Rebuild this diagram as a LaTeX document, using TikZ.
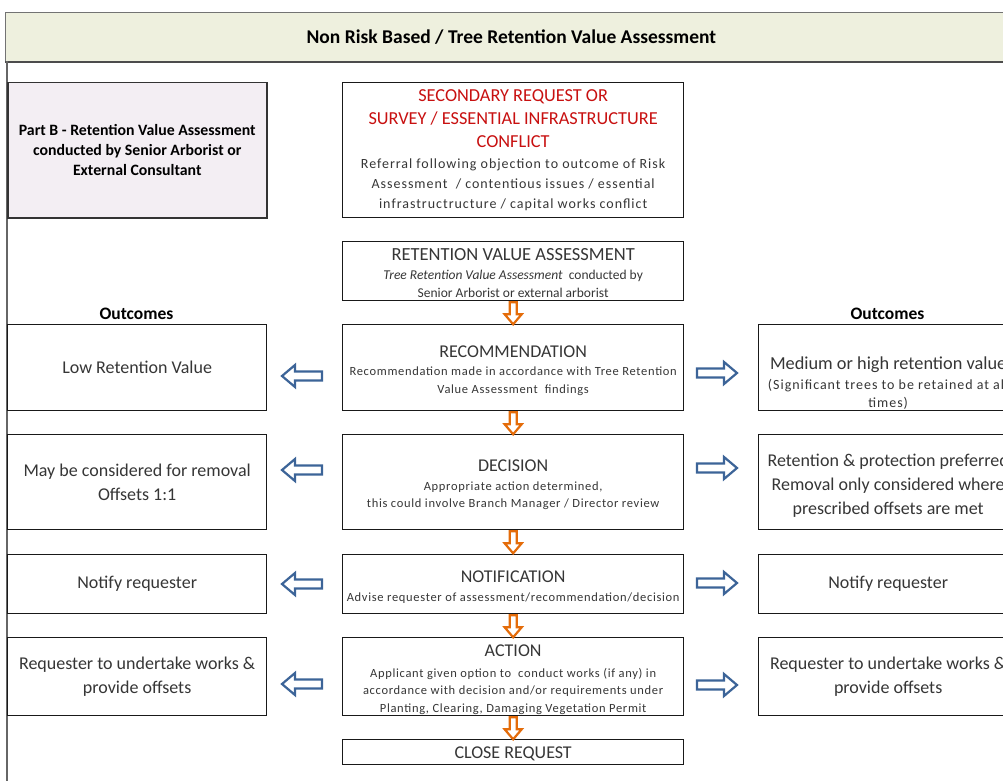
\documentclass[tikz,border=0pt]{standalone}
\usepackage{fontspec}
\usetikzlibrary{calc}
\setmainfont{Carlito}
\newfontfamily\spc[LetterSpace=5.5]{Carlito}
\newfontfamily\spcb[LetterSpace=7]{Carlito}
\definecolor{hdrfill}{HTML}{EEF0DE}
\definecolor{pbfill}{HTML}{F3EEF3}
\definecolor{redt}{HTML}{C81010}
\definecolor{txt}{HTML}{363636}
\definecolor{arrblue}{HTML}{3C6498}
\definecolor{arrorange}{HTML}{E46C0A}
\newcommand{\ttlf}{\rmfamily\fontsize{18}{20}\selectfont}
\begin{document}
\begin{tikzpicture}[x=1pt,y=-1pt,
  box/.style={draw=black!90, line width=1.3pt, fill=white, text=txt, align=center, inner sep=1pt, anchor=north west},
  outbox/.style={box, font=\fontsize{18}{24}\selectfont},
  cbox/.style={box, font=\spc\fontsize{12.5}{17.5}\selectfont},
  outlbl/.style={font=\bfseries\fontsize{17.5}{18}\selectfont, text=black, anchor=base},
  larr/.pic={\draw[arrblue, line width=2.2pt, fill=white, line join=miter]
     (-20,0) -- (-7,-11) -- (-7,-4.5) -- (20,-4.5) -- (20,4.5) -- (-7,4.5) -- (-7,11) -- cycle;},
  rarr/.pic={\draw[arrblue, line width=2.2pt, fill=white, line join=miter]
     (20,0) -- (7,-11) -- (7,-4.5) -- (-20,-4.5) -- (-20,4.5) -- (7,4.5) -- (7,11) -- cycle;},
  darr/.pic={\draw[arrorange, line width=2.2pt, fill=white, line join=miter]
     (-3.5,1) -- (3.5,1) -- (3.5,13) -- (8.5,13) -- (0,23) -- (-8.5,13) -- (-3.5,13) -- cycle;}
]
\useasboundingbox (0,0) rectangle (1003,781);
\clip (0,0) rectangle (1003,781);
\fill[white] (0,0) rectangle (1003,781);

% header
\node[draw=black!55, line width=0.8pt, fill=hdrfill, minimum width=1012, minimum height=49, anchor=north west,
      font=\bfseries\fontsize{19.5}{22}\selectfont, text=black] (hdr) at (5,12) {Non Risk Based / Tree Retention Value Assessment};
\draw[black!70, line width=2.5pt] (hdr.south west) -- (hdr.south east);
\draw[black!60, line width=1.2pt] (7,61) -- (7,781);

% Part B
\node[box, draw=black!80, line width=1.5pt, fill=pbfill, minimum width=259, minimum height=135,
      font=\bfseries\fontsize{15.8}{20}\selectfont, text=black] (partb) at (7,82)
  {Part B - Retention Value Assessment\\conducted by Senior Arborist or\\External Consultant};

% Secondary request
\node[box, minimum width=341, minimum height=135, font=\spcb\fontsize{14}{20}\selectfont] (sec) at (342,82)
  {{\color{redt}\rmfamily\fontsize{18.3}{23}\selectfont SECONDARY REQUEST OR}\\[3pt]
   {\color{redt}\rmfamily\fontsize{18.3}{23}\selectfont SURVEY / ESSENTIAL INFRASTRUCTURE}\\[3pt]
   {\color{redt}\rmfamily\fontsize{18.3}{23}\selectfont CONFLICT}\\[1pt]
   Referral following objection to outcome of Risk\\
   Assessment\ \ / contentious issues / essential\\
   infrastructructure / capital works conflict};

% Retention value assessment
\node[box, minimum width=341, minimum height=59, font=\fontsize{13.5}{18}\selectfont] (rva) at (342,241)
  {{\fontsize{18.5}{20}\selectfont\rule{0pt}{16pt}RETENTION VALUE ASSESSMENT}\\[1pt]
   {\itshape Tree Retention Value Assessment}\ \ conducted by\\
   Senior Arborist or external arborist};

% Outcomes labels
\node[outlbl] (outl) at (136.5,319) {Outcomes};
\node[outlbl] (outr) at (887.5,319) {Outcomes};

% Row 1
\node[outbox, minimum width=259, minimum height=86] (low) at (7,324) {Low Retention Value};
\node[cbox, minimum width=341, minimum height=86] (rec) at (342,324)
  {{\ttlf\rule{0pt}{17pt}RECOMMENDATION}\\[1pt]
   Recommendation made in accordance with Tree Retention\\
   Value Assessment\ \ findings};
\node[box, minimum width=259, minimum height=86, font=\spcb\fontsize{14}{18}\selectfont] (med) at (758,324)
  {{\rmfamily\fontsize{18.3}{20}\selectfont\rule{0pt}{44pt}Medium or high retention value}\\[2pt]
   (Significant trees to be retained at all\\
   times)};

% Row 2
\node[outbox, minimum width=259, minimum height=95] (may) at (7,434) {May be considered for removal\\Offsets 1:1};
\node[cbox, minimum width=341, minimum height=95, font=\spc\fontsize{12.5}{17}\selectfont] (dec) at (342,434)
  {{\ttlf\rule{0pt}{17pt}DECISION}\\[2.5pt]
   Appropriate action determined,\\
   this could involve Branch Manager / Director review};
\node[outbox, minimum width=259, minimum height=95] (ret) at (758,434)
  {\rule{0pt}{19pt}Retention \& protection preferred\\Removal only considered where\\prescribed offsets are met};

% Row 3
\node[outbox, minimum width=259, minimum height=59] (notl) at (7,554) {Notify requester};
\node[cbox, minimum width=341, minimum height=59] (notc) at (342,554)
  {{\ttlf\rule{0pt}{18pt}NOTIFICATION}\\[1pt]
   Advise requester of assessment/recommendation/decision};
\node[outbox, minimum width=259, minimum height=59] (notr) at (758,554) {Notify requester};

% Row 4
\node[outbox, minimum width=259, minimum height=78] (reql) at (7,637) {Requester to undertake works \&\\provide offsets};
\node[cbox, minimum width=341, minimum height=78, font=\spc\fontsize{12.5}{17.5}\selectfont] (act) at (342,637)
  {{\ttlf\rule{0pt}{18pt}ACTION}\\[3pt]
   Applicant given option to\ \ conduct works (if any) in\\
   accordance with decision and/or requirements under\\
   Planting, Clearing, Damaging Vegetation Permit};
\node[outbox, minimum width=259, minimum height=78] (reqr) at (758,637) {Requester to undertake works \&\\provide offsets};

% Close
\node[box, minimum width=341, minimum height=25, font=\fontsize{18}{20}\selectfont] (close) at (342,739) {\rule{0pt}{15pt}CLOSE REQUEST};

% orange down arrows
\pic at (rva.south) {darr};
\pic at (rec.south) {darr};
\pic at (dec.south) {darr};
\pic at (notc.south) {darr};
\pic at (act.south) {darr};

% blue side arrows
\pic at (302,376) {larr};
\pic at (302,470) {larr};
\pic at (302,584) {larr};
\pic at (302,684) {larr};
\pic at (717,373) {rarr};
\pic at (717,468) {rarr};
\pic at (717,583) {rarr};
\pic at (717,685) {rarr};
\end{tikzpicture}
\end{document}
